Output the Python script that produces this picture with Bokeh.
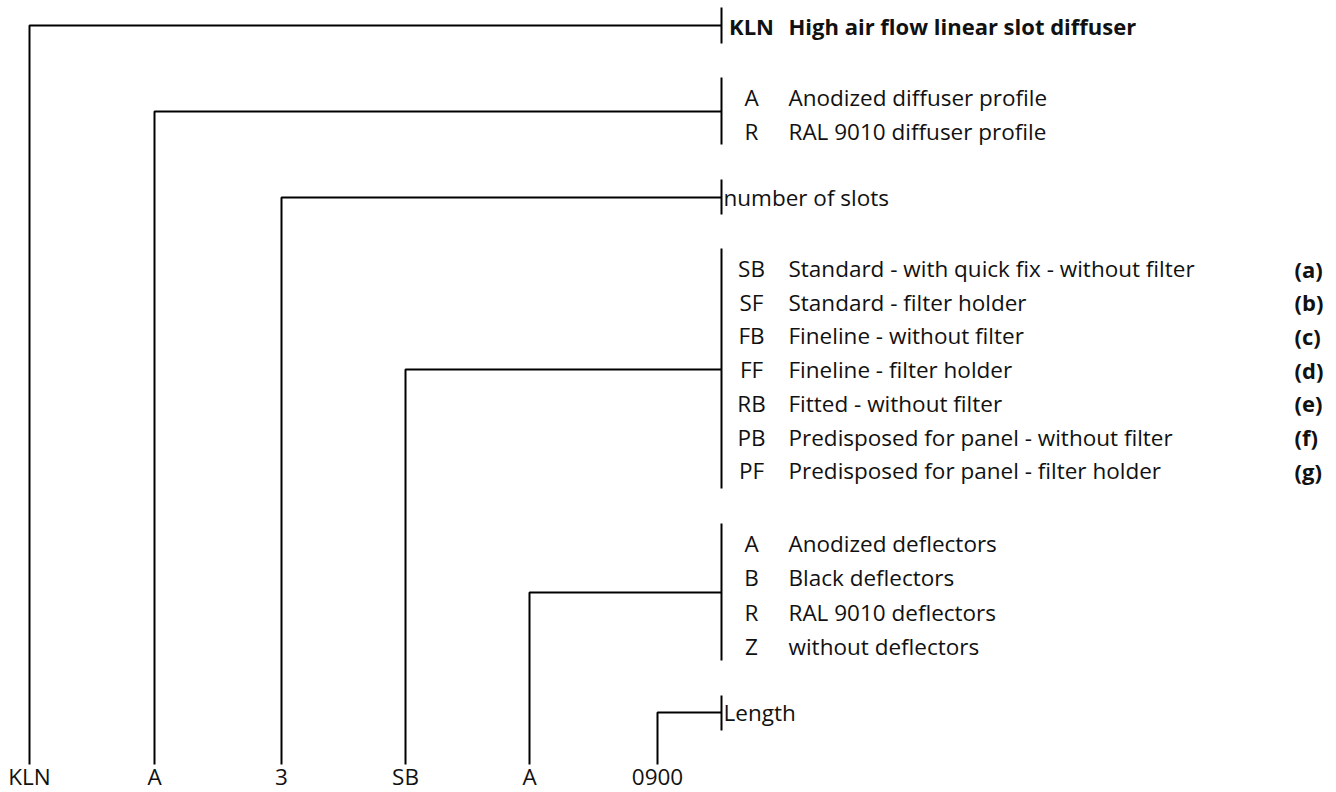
from bokeh.plotting import figure
from bokeh.models import Range1d
from bokeh.core.properties import value
from bokeh.embed import file_html
from bokeh.resources import INLINE

# ---- data (text content) ----
segment_codes = ["KLN", "A", "3", "SB", "A", "0900"]
model_codes = ["KLN"]
model_desc = ["High air flow linear slot diffuser"]
finish_codes = ["A", "R"]
finish_desc = ["Anodized diffuser profile", "RAL 9010 diffuser profile"]
slots_label = ["number of slots"]
version_codes = ["SB", "SF", "FB", "FF", "RB", "PB", "PF"]
version_desc = ["Standard - with quick fix - without filter",
                "Standard - filter holder",
                "Fineline - without filter",
                "Fineline - filter holder",
                "Fitted - without filter",
                "Predisposed for panel  - without filter",
                "Predisposed for panel - filter holder"]
version_notes = ["(a)", "(b)", "(c)", "(d)", "(e)", "(f)", "(g)"]
deflector_codes = ["A", "B", "R", "Z"]
deflector_desc = ["Anodized deflectors", "Black deflectors",
                  "RAL 9010 deflectors", "without deflectors"]
length_label = ["Length"]

# ---- layout (picture pixel coordinates) ----
W, H = 1336, 792
FONT = "Open Sans"
FS = "22.5px"
FS_BOLD = "22px"
col_x = [29, 154, 281, 405, 529, 657]
bar_x = 721
code_cx = 751
desc_x = 788
note_x = 1294
bottom_line_y = 764
bottom_text_y = 776

p = figure(width=W, height=H, output_backend="svg", toolbar_location=None,
           x_range=Range1d(0, W), y_range=Range1d(H, 0),
           min_border=0, outline_line_color=None)
p.axis.visible = False
p.grid.visible = False

def text(xs, ys, txt, align="left", bold=False):
    p.text(x=xs, y=ys, text=txt, text_font=value(FONT),
           text_font_size=FS_BOLD if bold else FS,
           text_align=align, text_baseline="middle", text_color="#111111",
           text_font_style="bold" if bold else "normal")

def group(idx, conn_y, bar_top, bar_bot):
    x0 = col_x[idx]
    p.line(x=[x0, x0, bar_x], y=[bottom_line_y, conn_y, conn_y],
           line_color="black", line_width=2)
    p.line(x=[bar_x, bar_x], y=[bar_top, bar_bot], line_color="black", line_width=2)

def rows(start, step, n):
    return [start + step * i for i in range(n)]

# model
y_model = [25]
group(0, 25, 7, 43)
text([code_cx], y_model, model_codes, "center", bold=True)
text([desc_x], y_model, model_desc, bold=True)

# finish
y_fin = rows(97, 34, len(finish_codes))
group(1, 111, 77, 144)
text([code_cx] * len(y_fin), y_fin, finish_codes, "center")
text([desc_x] * len(y_fin), y_fin, finish_desc)

# slots
group(2, 197, 179, 214)
text([bar_x + 2], [197], slots_label)

# versions
y_ver = rows(268, 33.7, len(version_codes))
group(3, y_ver[3], 248, 488)
text([code_cx] * len(y_ver), y_ver, version_codes, "center")
text([desc_x] * len(y_ver), y_ver, version_desc)
text([note_x] * len(y_ver), y_ver, version_notes, bold=True)

# deflectors
y_def = rows(543, 34.3, len(deflector_codes))
group(4, 592, 523, 660)
text([code_cx] * len(y_def), y_def, deflector_codes, "center")
text([desc_x] * len(y_def), y_def, deflector_desc)

# length
group(5, 712, 695, 730)
text([bar_x + 2], [712], length_label)

# bottom codes
text(col_x, [bottom_text_y] * len(col_x), segment_codes, "center")

open("out.html", "w").write(file_html(p, INLINE))
